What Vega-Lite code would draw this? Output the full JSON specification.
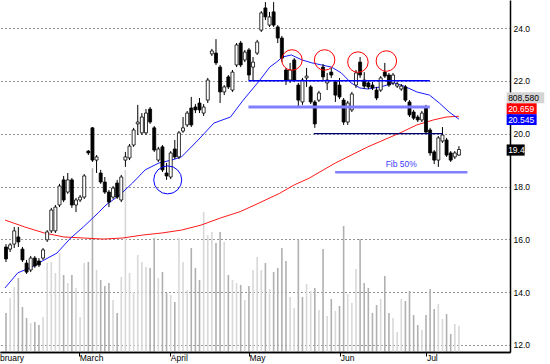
{
  "$schema": "https://vega.github.io/schema/vega-lite/v6.json",
  "width": 510,
  "height": 352,
  "autosize": {"type": "none"},
  "padding": {"left": 0, "top": 0, "right": 40, "bottom": 12},
  "background": "white",
  "config": {"view": {"stroke": null}, "font": "Liberation Sans"},
  "datasets": {
    "candles": [
      {"i":0,"o":15.71,"h":15.82,"l":15.14,"c":15.26,"v":1199000,"vs":"d"},
      {"i":1,"o":15.63,"h":15.86,"l":15.52,"c":15.79,"v":1660000,"vs":"l"},
      {"i":2,"o":15.82,"h":16.47,"l":15.67,"c":16.32,"v":1998000,"vs":"l"},
      {"i":3,"o":16.09,"h":16.47,"l":15.71,"c":15.90,"v":2275000,"vs":"d"},
      {"i":4,"o":15.63,"h":15.71,"l":15.14,"c":15.22,"v":1384000,"vs":"d"},
      {"i":5,"o":15.10,"h":15.22,"l":14.69,"c":14.76,"v":1045000,"vs":"d"},
      {"i":6,"o":14.84,"h":15.37,"l":14.76,"c":15.29,"v":892000,"vs":"l"},
      {"i":7,"o":15.29,"h":15.37,"l":14.92,"c":14.99,"v":922000,"vs":"d"},
      {"i":8,"o":15.18,"h":15.29,"l":14.95,"c":15.03,"v":830000,"vs":"d"},
      {"i":9,"o":15.29,"h":15.67,"l":15.22,"c":15.60,"v":1076000,"vs":"l"},
      {"i":10,"o":15.98,"h":16.35,"l":15.90,"c":16.28,"v":2736000,"vs":"l"},
      {"i":11,"o":16.32,"h":17.19,"l":16.24,"c":17.11,"v":2767000,"vs":"l"},
      {"i":12,"o":16.32,"h":17.30,"l":16.24,"c":17.22,"v":2429000,"vs":"l"},
      {"i":13,"o":17.30,"h":18.10,"l":17.22,"c":18.02,"v":3044000,"vs":"l"},
      {"i":14,"o":18.25,"h":18.40,"l":17.41,"c":17.49,"v":2367000,"vs":"d"},
      {"i":15,"o":17.79,"h":18.51,"l":17.72,"c":18.25,"v":2121000,"vs":"l"},
      {"i":16,"o":18.25,"h":18.32,"l":17.19,"c":17.30,"v":2367000,"vs":"d"},
      {"i":17,"o":17.30,"h":17.57,"l":17.03,"c":17.49,"v":1968000,"vs":"l"},
      {"i":18,"o":17.49,"h":17.68,"l":17.41,"c":17.60,"v":1076000,"vs":"l"},
      {"i":19,"o":17.60,"h":18.47,"l":17.53,"c":18.40,"v":2736000,"vs":"l"},
      {"i":20,"o":19.34,"h":19.38,"l":19.19,"c":19.27,"v":2767000,"vs":"d"},
      {"i":21,"o":20.22,"h":20.25,"l":18.93,"c":19.00,"v":5650000,"vs":"d"},
      {"i":22,"o":19.00,"h":19.19,"l":18.51,"c":19.12,"v":2521000,"vs":"l"},
      {"i":23,"o":18.51,"h":18.63,"l":18.10,"c":18.17,"v":2214000,"vs":"d"},
      {"i":24,"o":18.17,"h":18.36,"l":17.72,"c":17.79,"v":2029000,"vs":"d"},
      {"i":25,"o":17.79,"h":17.87,"l":17.22,"c":17.41,"v":2121000,"vs":"d"},
      {"i":26,"o":17.60,"h":18.02,"l":17.53,"c":17.94,"v":1599000,"vs":"l"},
      {"i":27,"o":18.13,"h":18.25,"l":17.53,"c":17.60,"v":1199000,"vs":"d"},
      {"i":28,"o":17.49,"h":18.44,"l":17.41,"c":18.36,"v":2306000,"vs":"l"},
      {"i":29,"o":19.00,"h":19.31,"l":18.74,"c":19.12,"v":5596000,"vs":"l"},
      {"i":30,"o":19.08,"h":19.61,"l":19.00,"c":19.53,"v":2429000,"vs":"l"},
      {"i":31,"o":19.57,"h":20.22,"l":19.50,"c":20.14,"v":1845000,"vs":"l"},
      {"i":32,"o":20.37,"h":21.09,"l":19.95,"c":20.44,"v":2982000,"vs":"l"},
      {"i":33,"o":20.03,"h":20.78,"l":19.95,"c":20.63,"v":2767000,"vs":"l"},
      {"i":34,"o":20.03,"h":20.93,"l":19.95,"c":20.78,"v":2613000,"vs":"l"},
      {"i":35,"o":20.93,"h":21.01,"l":20.37,"c":20.44,"v":2583000,"vs":"d"},
      {"i":36,"o":20.22,"h":20.29,"l":19.31,"c":19.38,"v":3505000,"vs":"d"},
      {"i":37,"o":19.00,"h":19.50,"l":18.93,"c":19.42,"v":2275000,"vs":"l"},
      {"i":38,"o":19.50,"h":19.57,"l":18.55,"c":18.63,"v":2460000,"vs":"d"},
      {"i":39,"o":18.51,"h":18.89,"l":18.25,"c":18.40,"v":1814000,"vs":"d"},
      {"i":40,"o":18.36,"h":19.34,"l":18.28,"c":19.27,"v":1752000,"vs":"l"},
      {"i":41,"o":19.42,"h":19.76,"l":19.04,"c":19.12,"v":1537000,"vs":"d"},
      {"i":42,"o":19.12,"h":20.10,"l":19.04,"c":20.03,"v":3505000,"vs":"l"},
      {"i":43,"o":20.10,"h":20.63,"l":20.03,"c":20.22,"v":2767000,"vs":"l"},
      {"i":44,"o":20.33,"h":20.86,"l":20.25,"c":20.78,"v":1906000,"vs":"l"},
      {"i":45,"o":20.97,"h":21.39,"l":20.25,"c":20.33,"v":3197000,"vs":"d"},
      {"i":46,"o":21.01,"h":21.12,"l":20.78,"c":20.90,"v":2583000,"vs":"d"},
      {"i":47,"o":21.16,"h":21.35,"l":20.78,"c":20.90,"v":2214000,"vs":"d"},
      {"i":48,"o":20.78,"h":21.12,"l":20.67,"c":21.01,"v":4304000,"vs":"l"},
      {"i":49,"o":21.27,"h":22.11,"l":21.16,"c":22.03,"v":3597000,"vs":"l"},
      {"i":50,"o":23.02,"h":23.21,"l":22.94,"c":23.13,"v":3689000,"vs":"l"},
      {"i":51,"o":23.05,"h":23.58,"l":22.60,"c":22.68,"v":3351000,"vs":"d"},
      {"i":52,"o":22.52,"h":22.60,"l":21.16,"c":21.58,"v":3689000,"vs":"d"},
      {"i":53,"o":21.58,"h":21.84,"l":21.46,"c":21.77,"v":3382000,"vs":"l"},
      {"i":54,"o":22.15,"h":22.22,"l":21.69,"c":21.77,"v":2367000,"vs":"d"},
      {"i":55,"o":21.65,"h":22.41,"l":21.58,"c":22.33,"v":2214000,"vs":"l"},
      {"i":56,"o":22.60,"h":23.43,"l":22.52,"c":23.36,"v":2121000,"vs":"l"},
      {"i":57,"o":23.43,"h":23.51,"l":22.52,"c":22.60,"v":2060000,"vs":"d"},
      {"i":58,"o":22.79,"h":23.17,"l":22.71,"c":23.09,"v":1599000,"vs":"l"},
      {"i":59,"o":23.17,"h":23.24,"l":22.03,"c":22.22,"v":2029000,"vs":"d"},
      {"i":60,"o":22.52,"h":22.90,"l":22.03,"c":22.71,"v":2521000,"vs":"l"},
      {"i":61,"o":23.05,"h":23.55,"l":22.98,"c":23.47,"v":2921000,"vs":"l"},
      {"i":62,"o":23.92,"h":24.64,"l":23.85,"c":24.57,"v":2521000,"vs":"l"},
      {"i":63,"o":24.76,"h":24.98,"l":24.30,"c":24.42,"v":2736000,"vs":"d"},
      {"i":64,"o":24.11,"h":24.61,"l":24.04,"c":24.42,"v":1937000,"vs":"l"},
      {"i":65,"o":24.61,"h":24.98,"l":24.04,"c":24.11,"v":2460000,"vs":"d"},
      {"i":66,"o":24.04,"h":24.11,"l":23.43,"c":23.62,"v":2583000,"vs":"d"},
      {"i":67,"o":23.62,"h":23.70,"l":22.71,"c":22.86,"v":3197000,"vs":"d"},
      {"i":68,"o":22.41,"h":22.49,"l":21.84,"c":22.03,"v":2798000,"vs":"d"},
      {"i":69,"o":22.03,"h":22.68,"l":21.92,"c":22.41,"v":1691000,"vs":"l"},
      {"i":70,"o":22.79,"h":22.86,"l":21.96,"c":22.03,"v":1353000,"vs":"l"},
      {"i":71,"o":21.84,"h":21.92,"l":21.01,"c":21.27,"v":3474000,"vs":"d"},
      {"i":72,"o":21.20,"h":22.11,"l":21.09,"c":22.03,"v":1691000,"vs":"d"},
      {"i":73,"o":22.11,"h":22.49,"l":21.77,"c":22.18,"v":2091000,"vs":"l"},
      {"i":74,"o":21.77,"h":21.84,"l":21.12,"c":21.20,"v":1875000,"vs":"l"},
      {"i":75,"o":21.20,"h":21.27,"l":20.22,"c":20.37,"v":1968000,"vs":"d"},
      {"i":76,"o":21.27,"h":21.62,"l":21.20,"c":21.54,"v":1291000,"vs":"l"},
      {"i":77,"o":22.52,"h":22.64,"l":22.03,"c":22.15,"v":3167000,"vs":"d"},
      {"i":78,"o":21.92,"h":22.30,"l":21.65,"c":22.03,"v":1107000,"vs":"l"},
      {"i":79,"o":22.33,"h":22.49,"l":22.11,"c":22.22,"v":1629000,"vs":"d"},
      {"i":80,"o":21.96,"h":22.03,"l":21.20,"c":21.46,"v":1261000,"vs":"l"},
      {"i":81,"o":21.84,"h":22.11,"l":21.31,"c":21.39,"v":1414000,"vs":"d"},
      {"i":82,"o":21.27,"h":21.35,"l":20.33,"c":20.44,"v":3874000,"vs":"d"},
      {"i":83,"o":20.44,"h":21.24,"l":20.33,"c":21.16,"v":1783000,"vs":"l"},
      {"i":84,"o":20.90,"h":21.58,"l":20.82,"c":21.50,"v":1507000,"vs":"l"},
      {"i":85,"o":21.84,"h":22.41,"l":21.73,"c":22.30,"v":2552000,"vs":"l"},
      {"i":86,"o":22.71,"h":22.90,"l":22.11,"c":22.22,"v":3474000,"vs":"d"},
      {"i":87,"o":22.03,"h":22.33,"l":21.69,"c":21.80,"v":2121000,"vs":"d"},
      {"i":88,"o":21.92,"h":22.03,"l":21.69,"c":21.77,"v":1968000,"vs":"d"},
      {"i":89,"o":21.84,"h":21.96,"l":21.65,"c":21.73,"v":1199000,"vs":"d"},
      {"i":90,"o":21.65,"h":21.77,"l":21.27,"c":21.35,"v":1445000,"vs":"d"},
      {"i":91,"o":21.65,"h":22.18,"l":21.58,"c":22.11,"v":1629000,"vs":"l"},
      {"i":92,"o":22.33,"h":22.68,"l":22.11,"c":22.18,"v":2337000,"vs":"d"},
      {"i":93,"o":22.22,"h":22.30,"l":21.77,"c":21.84,"v":1199000,"vs":"d"},
      {"i":94,"o":21.92,"h":22.30,"l":21.84,"c":22.22,"v":1045000,"vs":"l"},
      {"i":95,"o":21.80,"h":21.96,"l":21.73,"c":21.88,"v":615000,"vs":"l"},
      {"i":96,"o":21.69,"h":21.88,"l":21.62,"c":21.80,"v":1629000,"vs":"l"},
      {"i":97,"o":21.77,"h":21.84,"l":21.20,"c":21.27,"v":1568000,"vs":"d"},
      {"i":98,"o":21.20,"h":21.27,"l":20.63,"c":20.71,"v":1875000,"vs":"d"},
      {"i":99,"o":20.82,"h":20.90,"l":20.52,"c":20.59,"v":1138000,"vs":"d"},
      {"i":100,"o":20.63,"h":20.71,"l":20.44,"c":20.52,"v":830000,"vs":"d"},
      {"i":101,"o":20.52,"h":20.86,"l":20.44,"c":20.78,"v":676000,"vs":"l"},
      {"i":102,"o":21.01,"h":21.09,"l":19.99,"c":20.06,"v":1138000,"vs":"d"},
      {"i":103,"o":20.14,"h":20.22,"l":19.16,"c":19.27,"v":1937000,"vs":"d"},
      {"i":104,"o":19.31,"h":19.38,"l":18.85,"c":19.00,"v":1322000,"vs":"d"},
      {"i":105,"o":19.00,"h":19.91,"l":18.74,"c":19.84,"v":1476000,"vs":"l"},
      {"i":106,"o":19.72,"h":20.25,"l":19.65,"c":19.95,"v":1015000,"vs":"l"},
      {"i":107,"o":19.76,"h":19.84,"l":19.12,"c":19.19,"v":1168000,"vs":"d"},
      {"i":108,"o":19.27,"h":19.34,"l":18.93,"c":19.00,"v":553000,"vs":"d"},
      {"i":109,"o":19.12,"h":19.34,"l":19.04,"c":19.27,"v":861000,"vs":"l"},
      {"i":110,"o":19.19,"h":19.53,"l":19.16,"c":19.40,"v":808580,"vs":"l"}
    ],
    "maBlue": [
      {"i":-0.24,"p":14.16},{"i":2.86,"p":14.73},{"i":6.19,"p":14.95},{"i":9.29,"p":15.22},
      {"i":12.38,"p":15.48},{"i":15.71,"p":16.05},{"i":18.81,"p":16.47},{"i":22.38,"p":17.0},
      {"i":24.29,"p":17.3},{"i":27.62,"p":17.68},{"i":30.71,"p":18.13},{"i":33.81,"p":18.63},
      {"i":37.14,"p":18.89},{"i":40.24,"p":19.0},{"i":42.62,"p":19.12},{"i":46.67,"p":19.76},
      {"i":50.48,"p":20.4},{"i":54.52,"p":20.63},{"i":57.62,"p":21.27},{"i":61.67,"p":22.03},
      {"i":64.05,"p":22.52},{"i":65.71,"p":22.71},{"i":67.14,"p":22.9},{"i":69.29,"p":22.98},
      {"i":71.9,"p":22.79},{"i":74.29,"p":22.68},{"i":76.67,"p":22.6},{"i":79.05,"p":22.52},
      {"i":81.43,"p":22.3},{"i":83.81,"p":21.92},{"i":85.95,"p":21.73},{"i":87.86,"p":21.69},
      {"i":90.95,"p":21.77},{"i":94.29,"p":21.92},{"i":96.67,"p":21.8},{"i":99.76,"p":21.58},
      {"i":102.86,"p":21.46},{"i":105.24,"p":21.16},{"i":107.62,"p":20.82},{"i":110.0,"p":20.55}
    ],
    "maRed": [
      {"i":-0.24,"p":16.73},{"i":4.52,"p":16.47},{"i":9.29,"p":16.24},{"i":14.05,"p":16.09},
      {"i":18.81,"p":16.05},{"i":23.57,"p":16.01},{"i":28.33,"p":16.05},{"i":33.1,"p":16.16},
      {"i":37.86,"p":16.24},{"i":42.62,"p":16.35},{"i":47.38,"p":16.54},{"i":52.14,"p":16.81},
      {"i":56.9,"p":17.05},{"i":61.67,"p":17.39},{"i":66.43,"p":17.74},{"i":70.0,"p":18.06},
      {"i":73.57,"p":18.31},{"i":80.0,"p":18.89},{"i":87.86,"p":19.5},{"i":95.71,"p":20.03},
      {"i":99.76,"p":20.33},{"i":103.81,"p":20.52},{"i":106.9,"p":20.63},{"i":110.0,"p":20.66}
    ],
    "levels": [
      {"i":58.88,"i2":102.93,"p":22.0,"kind":"res"},
      {"i":58.88,"i2":102.93,"p":21.01,"kind":"mid"},
      {"i":74.76,"i2":106.12,"p":20.0,"kind":"sup"},
      {"i":79.93,"i2":112.07,"p":18.54,"kind":"fib"}
    ],
    "circles": [
      {"i":69.45,"p":22.79,"kind":"red"},
      {"i":77.38,"p":22.79,"kind":"red"},
      {"i":85.47,"p":22.71,"kind":"red"},
      {"i":92.38,"p":22.75,"kind":"red"},
      {"i":39.28,"p":18.25,"kind":"blue"}
    ],
    "notes": [{"i":92.2,"p":18.85,"label":"Fib 50%"}],
    "tags": [
      {"i":121.59,"p":21.358,"kind":"vol","label":"808,580"},
      {"i":121.59,"p":20.941,"kind":"red","label":"20.659"},
      {"i":121.59,"p":20.533,"kind":"blue","label":"20.545"},
      {"i":121.59,"p":19.38,"kind":"last","label":"19.4"}
    ]
  },
  "encoding": {
    "x": {
      "field": "i",
      "type": "quantitative",
      "scale": {"domain": [-0.24, 121.19], "nice": false, "zero": false},
      "axis": {
        "values": [4.28, 17.8, 39.9, 59.0, 81.2, 102.1],
        "labelExpr": "datum.value < 10 ? 'February' : datum.value < 30 ? 'March' : datum.value < 50 ? 'April' : datum.value < 70 ? 'May' : datum.value < 90 ? 'Jun' : 'Jul'",
        "title": null,
        "grid": false,
        "domain": true,
        "domainColor": "#000000",
        "domainWidth": 1.5,
        "ticks": true,
        "tickColor": "#000000",
        "tickOpacity": {"condition": {"test": "datum.value < 10", "value": 0}, "value": 1},
        "tickSize": 4,
        "labelAlign": {"condition": {"test": "datum.value < 10", "value": "right"}, "value": "left"},
        "labelBaseline": "top",
        "labelPadding": -3,
        "labelDx": 2,
        "labelFontSize": 8.5,
        "labelColor": "#000000",
        "labelFlush": false,
        "labelOverlap": false,
        "labelBound": false,
        "zindex": 1
      }
    }
  },
  "layer": [
    {
      "data": {"name": "candles"},
      "mark": {"type": "bar", "size": 1.6},
      "encoding": {
        "y": {
          "field": "v", "type": "quantitative",
          "scale": {"domain": [0, 10822000], "nice": false},
          "axis": {
            "orient": "left",
            "values": [0],
            "grid": true,
            "gridColor": "#000000",
            "gridWidth": 1.5,
            "gridOpacity": 1,
            "labels": false,
            "ticks": false,
            "domain": false,
            "title": null
          }
        },
        "color": {"condition": {"test": "datum.vs === 'd'", "value": "#b0b0b0"}, "value": "#d8d8d8"}
      }
    },
    {
      "data": {"name": "maRed"},
      "mark": {"type": "line", "color": "#ff1a1a", "strokeWidth": 1},
      "encoding": {
        "y": {
          "field": "p", "type": "quantitative",
          "scale": {"domain": [11.735, 25.06], "nice": false, "zero": false},
          "axis": {
            "orient": "right",
            "values": [12, 14, 16, 18, 20, 22, 24],
            "format": ".1f",
            "title": null,
            "grid": true,
            "gridDash": [1, 3],
            "gridColor": "#000000",
            "gridOpacity": 0.85,
            "domain": true,
            "ticks": false,
            "tickSize": 0,
            "labelPadding": 3,
            "labelFontSize": 8.5,
            "labelColor": "#000000",
            "domainColor": "#000000",
            "domainWidth": 1.5
          }
        }
      }
    },
    {
      "data": {"name": "maBlue"},
      "mark": {"type": "line", "color": "#1a1aff", "strokeWidth": 1},
      "encoding": {
        "y": {"field": "p", "type": "quantitative", "scale": {"domain": [11.735, 25.06], "nice": false, "zero": false}, "axis": null}
      }
    },
    {
      "data": {"name": "candles"},
      "mark": {"type": "rule", "color": "#000000", "strokeWidth": 1},
      "encoding": {
        "y": {"field": "l", "type": "quantitative", "scale": {"domain": [11.735, 25.06], "nice": false, "zero": false}, "axis": null},
        "y2": {"field": "h"}
      }
    },
    {
      "data": {"name": "candles"},
      "mark": {"type": "bar", "size": 3, "stroke": "#000000", "strokeWidth": 0.8},
      "encoding": {
        "y": {"field": "o", "type": "quantitative", "scale": {"domain": [11.735, 25.06], "nice": false, "zero": false}, "axis": null},
        "y2": {"field": "c"},
        "fill": {"condition": {"test": "datum.c >= datum.o", "value": "#ffffff"}, "value": "#000000"}
      }
    },
    {
      "data": {"name": "levels"},
      "mark": {"type": "rule"},
      "encoding": {
        "x2": {"field": "i2"},
        "y": {"field": "p", "type": "quantitative", "scale": {"domain": [11.735, 25.06], "nice": false, "zero": false}, "axis": null},
        "stroke": {
          "condition": [
            {"test": "datum.kind === 'res'", "value": "#0000ff"},
            {"test": "datum.kind === 'sup'", "value": "#000070"}
          ],
          "value": "#8080ff"
        },
        "strokeWidth": {
          "condition": [
            {"test": "datum.kind === 'res'", "value": 1.5},
            {"test": "datum.kind === 'sup'", "value": 1.2},
            {"test": "datum.kind === 'mid'", "value": 3}
          ],
          "value": 2.5
        }
      }
    },
    {
      "data": {"name": "circles"},
      "mark": {"type": "point", "shape": "circle", "filled": false, "strokeWidth": 1, "opacity": 1},
      "encoding": {
        "y": {"field": "p", "type": "quantitative", "scale": {"domain": [11.735, 25.06], "nice": false, "zero": false}, "axis": null},
        "stroke": {"condition": {"test": "datum.kind === 'red'", "value": "#ff0000"}, "value": "#0000ff"},
        "size": {"condition": {"test": "datum.kind === 'red'", "value": 420}, "value": 784}
      }
    },
    {
      "data": {"name": "notes"},
      "mark": {"type": "text", "align": "left", "baseline": "middle", "fontSize": 8.5, "color": "#3c3cff"},
      "encoding": {
        "y": {"field": "p", "type": "quantitative", "scale": {"domain": [11.735, 25.06], "nice": false, "zero": false}, "axis": null},
        "text": {"field": "label"}
      }
    },
    {
      "data": {"name": "tags"},
      "mark": {"type": "point", "filled": true, "size": 1600, "strokeWidth": 0, "opacity": 1},
      "encoding": {
        "y": {"field": "p", "type": "quantitative", "scale": {"domain": [11.735, 25.06], "nice": false, "zero": false}, "axis": null},
        "shape": {
          "field": "kind", "type": "nominal",
          "scale": {
            "domain": ["vol", "red", "blue", "last"],
            "range": ["M0,-0.275H1.88V0.275H0Z", "M0,-0.275H1.5V0.275H0Z", "M0,-0.27H1.5V0.27H0Z", "M0,-0.28H0.9V0.28H0Z"]
          },
          "legend": null
        },
        "fill": {
          "field": "kind", "type": "nominal",
          "scale": {"domain": ["vol", "red", "blue", "last"], "range": ["#d4d4d4", "#ff0000", "#0000ff", "#000000"]},
          "legend": null
        }
      }
    },
    {
      "data": {"name": "tags"},
      "mark": {"type": "text", "align": "left", "baseline": "middle", "dx": 1.5, "fontSize": 8.5},
      "encoding": {
        "y": {"field": "p", "type": "quantitative", "scale": {"domain": [11.735, 25.06], "nice": false, "zero": false}, "axis": null},
        "text": {"field": "label"},
        "color": {"condition": {"test": "datum.kind === 'vol'", "value": "#000000"}, "value": "#ffffff"}
      }
    }
  ],
  "resolve": {"scale": {"y": "independent"}, "axis": {"y": "independent"}}
}
